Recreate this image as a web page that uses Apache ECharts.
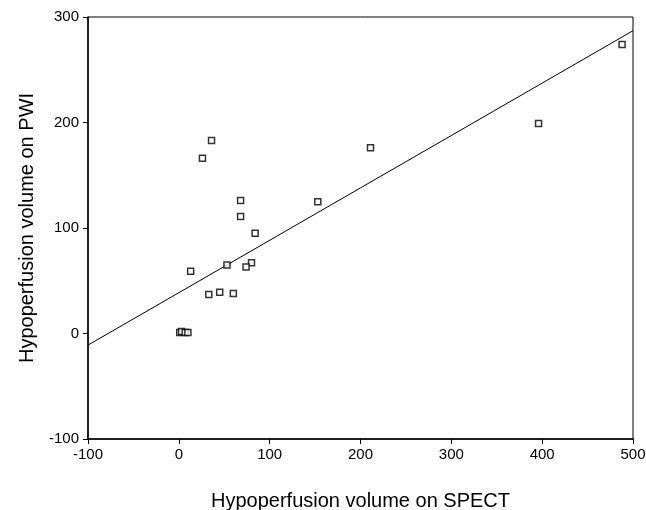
<!DOCTYPE html>
<html>
<head>
<meta charset="utf-8">
<script src="https://cdn.jsdelivr.net/npm/echarts@6/dist/echarts.min.js"></script>
<style>html,body{margin:0;padding:0;background:#fff;}#c{width:646px;height:510px;}</style>
</head>
<body>
<div id="c"></div>
<script>
// SPECT hypoperfusion volume (x) vs PWI hypoperfusion volume (y)
var spectValues = [488, 396, 211, 153, 36, 26, 68, 68, 84, 53, 80, 74, 13, 33, 45, 60, 1, 3, 7, 10];
var pwiValues   = [274, 199, 176, 125, 183, 166, 126, 111, 95, 65, 67, 63, 59, 37, 39, 38, 1, 2, 1, 1];
// regression line end points
var fitX = [-100, 500];
var fitY = [-11, 287];
var xTicks = [-100, 0, 100, 200, 300, 400, 500];
var yTicks = [-100, 0, 100, 200, 300];
var xName = 'Hypoperfusion volume on SPECT';
var yName = 'Hypoperfusion volume on PWI';

var points = spectValues.map(function (x, i) { return [x, pwiValues[i]]; });
var fitLine = fitX.map(function (x, i) { return [x, fitY[i]]; });

var font = 'Liberation Sans, Arial, sans-serif';
var chart = echarts.init(document.getElementById('c'), null, {renderer: 'canvas'});
chart.setOption({
  animation: false,
  backgroundColor: '#fff',
  grid: {left: 88, right: 13, top: 17, bottom: 71, show: true, borderColor: '#000', borderWidth: 1, containLabel: false, outerBoundsMode: 'none'},
  xAxis: {
    type: 'value', min: xTicks[0], max: xTicks[xTicks.length - 1], interval: 100,
    name: xName, nameLocation: 'middle', nameGap: 52,
    nameTextStyle: {fontFamily: font, fontSize: 20, color: '#000'},
    axisLine: {show: true, onZero: false, lineStyle: {color: '#000', width: 1.5}},
    axisTick: {show: true, inside: false, length: 5, lineStyle: {color: '#000'}},
    axisLabel: {fontFamily: font, fontSize: 15, color: '#000', margin: 8},
    splitLine: {show: false}
  },
  yAxis: {
    type: 'value', min: yTicks[0], max: yTicks[yTicks.length - 1], interval: 100,
    name: yName, nameLocation: 'middle', nameGap: 51,
    nameTextStyle: {fontFamily: font, fontSize: 20, color: '#000'},
    axisLine: {show: true, onZero: false, lineStyle: {color: '#000', width: 1.5}},
    axisTick: {show: true, inside: false, length: 5, lineStyle: {color: '#000'}},
    axisLabel: {fontFamily: font, fontSize: 15, color: '#000', margin: 9},
    splitLine: {show: false}
  },
  series: [
    {
      type: 'line', data: fitLine, symbol: 'none', silent: true,
      lineStyle: {color: '#000', width: 1}, z: 2
    },
    {
      type: 'scatter', data: points, symbol: 'rect', symbolSize: 6,
      itemStyle: {color: '#fff', borderColor: '#000', borderWidth: 1.5}, z: 3
    }
  ]
});
</script>
</body>
</html>
